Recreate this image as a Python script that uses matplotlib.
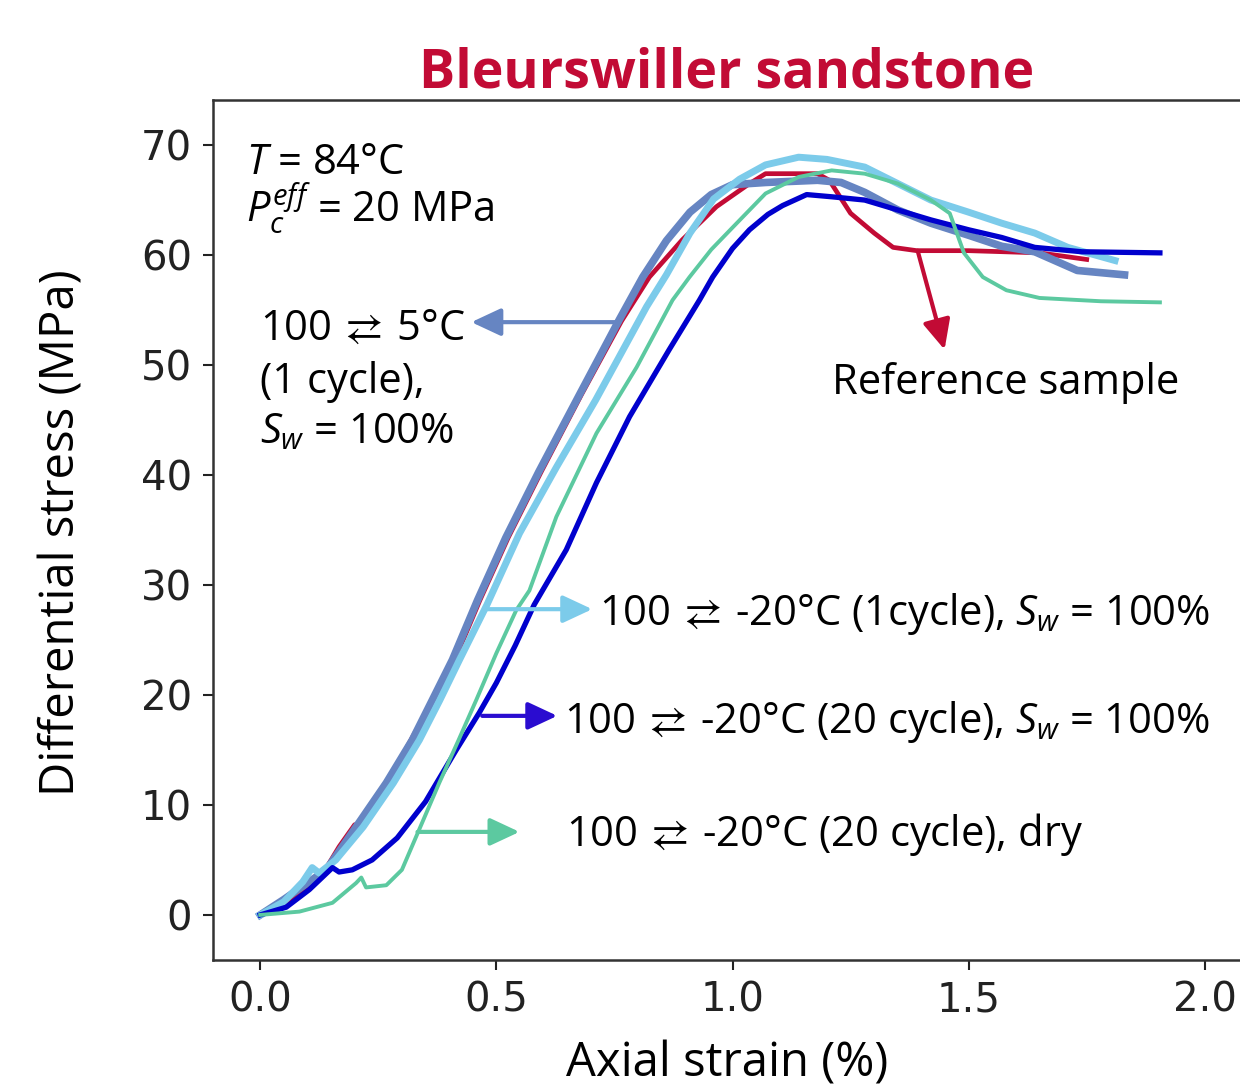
import matplotlib
matplotlib.use('Agg')
import matplotlib.pyplot as plt

plt.rcParams['mathtext.fontset'] = 'custom'
plt.rcParams['mathtext.rm'] = 'Open Sans'
plt.rcParams['mathtext.it'] = 'Open Sans:italic'
plt.rcParams['mathtext.bf'] = 'Open Sans:bold'
plt.rcParams['mathtext.fallback'] = 'stixsans'

# courbes contrainte-deformation
ref_x = [0, 0.05, 0.09, 0.125, 0.167, 0.20, 0.206, 0.25, 0.30, 0.365, 0.41, 0.465, 0.525, 0.595, 0.68,
         0.765, 0.824, 0.894, 0.966, 1.036, 1.07, 1.18, 1.205, 1.25, 1.30, 1.34, 1.39, 1.50, 1.65, 1.75]
ref_y = [0, 1.0, 2.1, 3.2, 6.2, 8.2, 7.5, 10.9, 14.4, 19.5, 23.0, 28.6, 34.3, 40.3, 47.3,
         54.0, 58.0, 61.4, 64.4, 66.5, 67.4, 67.4, 66.8, 63.8, 62.0, 60.7, 60.4, 60.4, 60.2, 59.6]

c5_x = [0, 0.05, 0.10, 0.14, 0.203, 0.267, 0.322, 0.364, 0.407, 0.46, 0.52, 0.59, 0.676, 0.76, 0.81,
        0.86, 0.91, 0.955, 1.0, 1.07, 1.18, 1.23, 1.28, 1.35, 1.42, 1.50, 1.57, 1.64, 1.73, 1.83]
c5_y = [0, 1.4, 2.9, 4.1, 8.0, 12.0, 15.9, 19.5, 23.2, 28.6, 34.3, 40.3, 47.3, 54.1, 58.0,
        61.3, 63.9, 65.5, 66.4, 66.6, 66.8, 66.6, 65.7, 64.1, 62.9, 61.8, 60.8, 60.3, 58.6, 58.2]

c1_x = [0, 0.05, 0.09, 0.11, 0.125, 0.16, 0.218, 0.282, 0.337, 0.38, 0.422, 0.48, 0.549, 0.627, 0.71,
        0.818, 0.86, 0.91, 0.96, 1.015, 1.07, 1.14, 1.20, 1.28, 1.35, 1.42, 1.50, 1.57, 1.64, 1.71, 1.81]
c1_y = [0, 1.2, 3.0, 4.3, 3.8, 5.0, 8.0, 12.0, 15.9, 19.5, 23.2, 28.2, 34.7, 40.7, 46.8,
        55.3, 58.2, 62.0, 65.1, 66.9, 68.2, 68.9, 68.7, 68.0, 66.5, 65.0, 63.9, 62.9, 62.0, 60.7, 59.5]

c20_x = [0, 0.055, 0.104, 0.153, 0.167, 0.195, 0.237, 0.29, 0.35, 0.415, 0.464, 0.5, 0.54, 0.58, 0.648,
         0.712, 0.782, 0.866, 0.93, 0.958, 1.0, 1.036, 1.075, 1.106, 1.157, 1.21, 1.28, 1.35, 1.42, 1.50,
         1.57, 1.64, 1.74, 1.905]
c20_y = [0, 0.7, 2.3, 4.3, 3.9, 4.1, 5.0, 7.0, 10.3, 15.0, 18.4, 21.1, 24.5, 28.2, 33.2,
         39.3, 45.3, 51.4, 55.9, 58.0, 60.6, 62.3, 63.7, 64.5, 65.5, 65.3, 65.0, 64.1, 63.2, 62.3,
         61.6, 60.7, 60.3, 60.2]

dry_x = [0, 0.083, 0.153, 0.203, 0.214, 0.224, 0.267, 0.30, 0.33, 0.379, 0.42, 0.457, 0.5, 0.542, 0.57,
         0.627, 0.712, 0.797, 0.873, 0.909, 0.955, 1.0, 1.07, 1.14, 1.21, 1.28, 1.35, 1.42, 1.46, 1.49,
         1.53, 1.58, 1.65, 1.78, 1.905]
dry_y = [0, 0.3, 1.1, 2.9, 3.4, 2.5, 2.7, 4.1, 7.1, 12.0, 15.9, 19.5, 23.8, 27.7, 29.5,
         36.2, 43.8, 49.8, 55.9, 58.0, 60.5, 62.5, 65.6, 67.1, 67.7, 67.4, 66.5, 65.0, 63.8, 60.2,
         58.0, 56.8, 56.1, 55.8, 55.7]

rouge = '#C20B35'
acier = '#6685C2'
ciel = '#7CCBEA'
bleu = '#0000CD'
vert = '#5CC9A0'

fig = plt.figure(figsize=(12.4, 10.89), dpi=100)
ax = fig.add_axes([213/1240, 129/1089, 1039/1240, 860/1089])

ax.plot(ref_x, ref_y, color=rouge, lw=3.4, zorder=2)
ax.plot(c5_x, c5_y, color=acier, lw=5.5, zorder=3)
ax.plot(c1_x, c1_y, color=ciel, lw=5.0, zorder=4)
ax.plot(c20_x, c20_y, color=bleu, lw=3.8, zorder=5)
ax.plot(dry_x, dry_y, color=vert, lw=2.8, zorder=6)

ax.set_xlim(-0.1, 2.1)
ax.set_ylim(-4.1, 74.1)
ax.set_xticks([0, 0.5, 1.0, 1.5, 2.0])
ax.set_xticklabels(['0.0', '0.5', '1.0', '1.5', '2.0'])
ax.set_yticks([0, 10, 20, 30, 40, 50, 60, 70])
ax.tick_params(labelsize=29, length=7, width=1.5, pad=8, colors='#222222')
for s in ax.spines.values():
    s.set_linewidth(1.8)
    s.set_color('#333333')

fleche = dict(shrinkA=0, shrinkB=0, lw=3)
tete = '-|>,head_length=0.9,head_width=0.42'
ax.annotate('', xy=(0.447, 53.9), xytext=(0.761, 53.9),
            arrowprops=dict(arrowstyle=tete, color=acier, mutation_scale=20, **fleche), zorder=7)
ax.annotate('', xy=(1.449, 51.4), xytext=(1.392, 60.4),
            arrowprops=dict(arrowstyle=tete, color=rouge, mutation_scale=20, **fleche), zorder=7)
ax.annotate('', xy=(0.703, 27.8), xytext=(0.479, 27.8),
            arrowprops=dict(arrowstyle=tete, color=ciel, mutation_scale=20, **fleche), zorder=7)
ax.annotate('', xy=(0.629, 18.1), xytext=(0.470, 18.1),
            arrowprops=dict(arrowstyle=tete, color='#2A0CD0', mutation_scale=20, **fleche), zorder=7)
ax.annotate('', xy=(0.549, 7.55), xytext=(0.333, 7.55),
            arrowprops=dict(arrowstyle=tete, color=vert, mutation_scale=20, **fleche), zorder=7)

txt = dict(fontsize=30, family='Open Sans', color='black', va='baseline', zorder=8)
ax.text(-0.03, 67.4, '$T$ = 84°C', **txt)
ax.text(-0.03, 63.0, '$P_c^{eff}$ = 20 MPa', **txt)
ax.text(0.0, 52.3, r'100$\,\rightleftarrows\,$5°C', **txt)
ax.text(0.0, 47.5, '(1 cycle),', **txt)
ax.text(0.0, 42.9, '$S_w$ = 100%', **txt)
ax.text(1.21, 47.4, 'Reference sample', **txt)
ax.text(0.718, 26.4, r'100$\,\rightleftarrows\,$-20°C (1cycle), $S_w$ = 100%', **txt)
ax.text(0.644, 16.5, r'100$\,\rightleftarrows\,$-20°C (20 cycle), $S_w$ = 100%', **txt)
ax.text(0.648, 6.3, r'100$\,\rightleftarrows\,$-20°C (20 cycle), dry', **txt)

fig.text(727/1240, (1089-88)/1089, 'Bleurswiller sandstone', fontsize=38.7, family='Open Sans',
         fontweight='bold', color=rouge, ha='center', va='baseline')
fig.text(62/1240, (1089-533)/1089, 'Differential stress (MPa)', fontsize=34, family='Open Sans',
         rotation=90, ha='center', va='center')
fig.text(727/1240, 13/1089, 'Axial strain (%)', fontsize=34, family='Open Sans',
         ha='center', va='baseline')

fig.savefig('out.png', dpi=100)
